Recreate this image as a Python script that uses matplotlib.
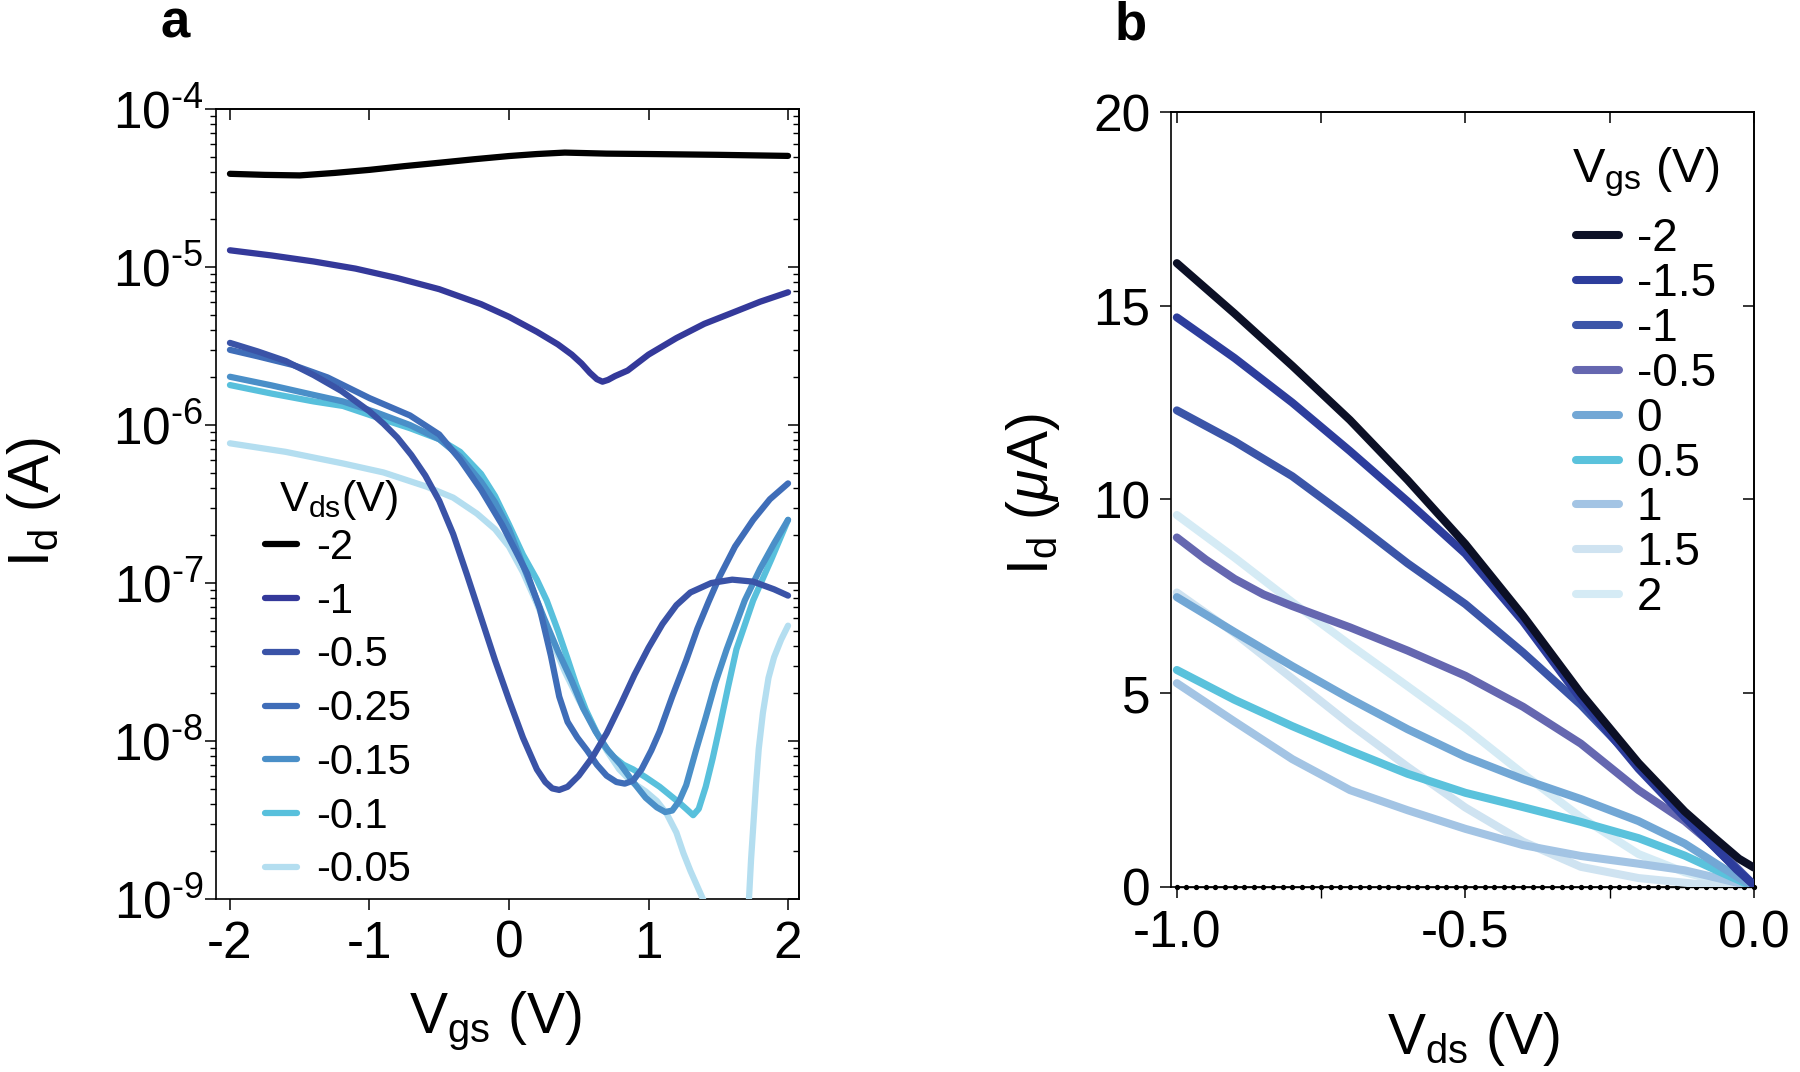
#!/usr/bin/env python3
"""Transfer (a) and output (b) curves of the FET, redrawn from the published figure."""

import numpy as np
import matplotlib

matplotlib.use("Agg")
import matplotlib.pyplot as plt
from matplotlib.ticker import FixedLocator, FuncFormatter, FormatStrFormatter, NullFormatter


# ---- panel a: Id (A) vs Vgs (V), one curve per Vds ----
vds_labels = ["-2", "-1", "-0.5", "-0.25", "-0.15", "-0.1", "-0.05"]
vds_colors = ["#000000", "#34399a", "#3a53a7", "#3f6db8", "#4a8fc8", "#58c0dc", "#b4def0"]

vgs_vds_m2 = [-2.0, -1.75, -1.5, -1.25, -1.0, -0.75, -0.5, -0.25, 0.0, 0.2, 0.4, 0.7, 1.0, 1.5, 2.0]
id_vds_m2 = [3.89e-5, 3.83e-5, 3.80e-5, 3.94e-5, 4.12e-5, 4.35e-5, 4.57e-5, 4.81e-5, 5.04e-5,
             5.19e-5, 5.30e-5, 5.22e-5, 5.19e-5, 5.13e-5, 5.05e-5]

vgs_vds_m1 = [-2.0, -1.7, -1.4, -1.1, -0.8, -0.5, -0.2, 0.0, 0.2, 0.35, 0.45, 0.52, 0.58, 0.63,
              0.67, 0.71, 0.76, 0.85, 1.0, 1.2, 1.4, 1.6, 1.8, 2.0]
id_vds_m1 = [1.276e-5, 1.183e-5, 1.084e-5, 9.77e-6, 8.51e-6, 7.24e-6, 5.82e-6, 4.84e-6, 3.89e-6,
             3.24e-6, 2.79e-6, 2.45e-6, 2.14e-6, 1.95e-6, 1.88e-6, 1.93e-6, 2.04e-6, 2.21e-6,
             2.79e-6, 3.55e-6, 4.37e-6, 5.13e-6, 6.03e-6, 6.92e-6]

vgs_vds_m05 = [-2.0, -1.8, -1.6, -1.4, -1.2, -1.0, -0.9, -0.8, -0.7, -0.6, -0.5, -0.4, -0.3, -0.2,
               -0.1, 0.0, 0.1, 0.2, 0.26, 0.31, 0.36, 0.42, 0.5, 0.6, 0.7, 0.8, 0.9, 1.0, 1.1,
               1.2, 1.3, 1.45, 1.6, 1.75, 1.9, 2.0]
id_vds_m05 = [3.31e-6, 2.92e-6, 2.54e-6, 2.07e-6, 1.64e-6, 1.22e-6, 1.02e-6, 8.32e-7, 6.46e-7,
              4.79e-7, 3.31e-7, 2.04e-7, 1.12e-7, 6.03e-8, 3.24e-8, 1.82e-8, 1.05e-8, 6.61e-9,
              5.50e-9, 5.01e-9, 4.90e-9, 5.13e-9, 6.03e-9, 7.94e-9, 1.12e-8, 1.70e-8, 2.63e-8,
              3.89e-8, 5.50e-8, 7.24e-8, 8.71e-8, 1.00e-7, 1.05e-7, 1.02e-7, 9.12e-8, 8.32e-8]

vgs_vds_m025 = [-2.0, -1.8, -1.55, -1.3, -1.0, -0.71, -0.5, -0.35, -0.2, -0.05, 0.05, 0.13, 0.22,
                0.30, 0.36, 0.42, 0.49, 0.56, 0.63, 0.70, 0.77, 0.83, 0.89, 0.95, 1.02, 1.08,
                1.17, 1.27, 1.35, 1.43, 1.51, 1.62, 1.75, 1.87, 2.0]
id_vds_m025 = [2.99e-6, 2.72e-6, 2.40e-6, 2.00e-6, 1.48e-6, 1.15e-6, 8.71e-7, 6.03e-7, 3.89e-7,
               2.34e-7, 1.58e-7, 1.15e-7, 6.92e-8, 3.47e-8, 1.91e-8, 1.32e-8, 1.05e-8, 8.71e-9,
               7.08e-9, 6.03e-9, 5.50e-9, 5.37e-9, 5.62e-9, 6.61e-9, 8.71e-9, 1.15e-8, 1.91e-8,
               3.24e-8, 5.13e-8, 7.59e-8, 1.10e-7, 1.70e-7, 2.51e-7, 3.39e-7, 4.27e-7]

vgs_vds_m015 = [-2.0, -1.7, -1.4, -1.19, -0.95, -0.71, -0.5, -0.35, -0.2, -0.1, 0.0, 0.12, 0.25,
                0.35, 0.45, 0.53, 0.62, 0.71, 0.80, 0.89, 0.98, 1.06, 1.12, 1.17, 1.22, 1.27,
                1.34, 1.41, 1.48, 1.56, 1.69, 1.8, 1.9, 2.0]
id_vds_m015 = [2.02e-6, 1.78e-6, 1.55e-6, 1.41e-6, 1.20e-6, 1.00e-6, 8.13e-7, 6.31e-7, 4.37e-7,
               3.24e-7, 2.19e-7, 1.17e-7, 6.03e-8, 3.72e-8, 2.40e-8, 1.62e-8, 1.15e-8, 8.71e-9,
               7.08e-9, 5.50e-9, 4.37e-9, 3.80e-9, 3.55e-9, 3.63e-9, 4.17e-9, 5.25e-9, 8.71e-9,
               1.41e-8, 2.34e-8, 3.80e-8, 7.76e-8, 1.23e-7, 1.78e-7, 2.51e-7]

vgs_vds_m01 = [-2.0, -1.7, -1.4, -1.19, -0.95, -0.71, -0.5, -0.35, -0.2, -0.1, 0.0, 0.1, 0.2,
               0.27, 0.35, 0.42, 0.48, 0.55, 0.63, 0.69, 0.75, 0.82, 0.89, 0.98, 1.08, 1.15, 1.22,
               1.27, 1.32, 1.36, 1.41, 1.46, 1.51, 1.57, 1.63, 1.75, 1.88, 2.0]
id_vds_m01 = [1.79e-6, 1.58e-6, 1.41e-6, 1.32e-6, 1.12e-6, 9.55e-7, 8.13e-7, 6.76e-7, 4.90e-7,
              3.55e-7, 2.34e-7, 1.51e-7, 1.05e-7, 7.76e-8, 5.01e-8, 3.31e-8, 2.29e-8, 1.58e-8,
              1.12e-8, 9.12e-9, 7.94e-9, 7.08e-9, 6.61e-9, 5.89e-9, 5.13e-9, 4.57e-9, 4.07e-9,
              3.72e-9, 3.39e-9, 3.72e-9, 5.13e-9, 7.76e-9, 1.23e-8, 2.19e-8, 3.80e-8, 7.76e-8,
              1.41e-7, 2.51e-7]

# -0.05 drops below 1e-9 between ~1.4 V and ~1.72 V (clipped by the axis)
vgs_vds_m005 = [-2.0, -1.6, -1.19, -0.9, -0.59, -0.4, -0.23, -0.1, 0.0, 0.1, 0.2, 0.3, 0.4, 0.5,
                0.6, 0.7, 0.79, 0.88, 0.98, 1.06, 1.13, 1.2, 1.25, 1.3, 1.35, 1.40, 1.45, 1.5,
                1.7, 1.72, 1.735, 1.75, 1.77, 1.79, 1.82, 1.86, 1.9, 1.95, 2.0]
id_vds_m005 = [7.66e-7, 6.76e-7, 5.71e-7, 5.01e-7, 4.07e-7, 3.47e-7, 2.75e-7, 2.19e-7, 1.70e-7,
               1.17e-7, 7.41e-8, 4.47e-8, 2.75e-8, 1.82e-8, 1.26e-8, 8.71e-9, 6.61e-9, 5.50e-9,
               4.79e-9, 4.17e-9, 3.47e-9, 2.63e-9, 1.95e-9, 1.51e-9, 1.20e-9, 9.55e-10, 6.31e-10,
               3.16e-10, 3.16e-10, 1.00e-9, 1.78e-9, 2.82e-9, 5.25e-9, 8.91e-9, 1.51e-8, 2.51e-8,
               3.39e-8, 4.37e-8, 5.37e-8]

# ---- panel b: Id (uA) vs Vds (V), one curve per Vgs ----
vgs_labels = ["-2", "-1.5", "-1", "-0.5", "0", "0.5", "1", "1.5", "2"]
vgs_colors = ["#0c1026", "#2d3d9c", "#3b55a8", "#6567b0", "#72a7d5", "#5ac2dc", "#a3c4e4",
              "#cfe3f1", "#d5ebf5"]

vds_vgs_m2 = [-1.0, -0.9, -0.8, -0.7, -0.6, -0.5, -0.4, -0.3, -0.2, -0.12, -0.066, -0.026, 0.0]
id_vgs_m2 = [16.1, 14.8, 13.45, 12.05, 10.5, 8.85, 7.0, 5.0, 3.2, 1.95, 1.24, 0.73, 0.5]

vds_vgs_m15 = [-1.0, -0.9, -0.8, -0.7, -0.6, -0.5, -0.4, -0.3, -0.2, -0.12, -0.066, -0.03, 0.0]
id_vgs_m15 = [14.7, 13.65, 12.5, 11.25, 9.95, 8.6, 6.85, 4.85, 3.05, 1.8, 1.0, 0.45, 0.05]

vds_vgs_m1 = [-1.0, -0.9, -0.8, -0.7, -0.6, -0.5, -0.4, -0.3, -0.2, -0.12, -0.06, 0.0]
id_vgs_m1 = [12.3, 11.5, 10.6, 9.5, 8.35, 7.3, 6.05, 4.7, 3.15, 1.8, 0.9, 0.05]

vds_vgs_m05 = [-1.0, -0.95, -0.9, -0.85, -0.8, -0.7, -0.6, -0.5, -0.4, -0.3, -0.2, -0.12, -0.06, 0.0]
id_vgs_m05 = [9.02, 8.45, 7.95, 7.55, 7.25, 6.7, 6.1, 5.45, 4.65, 3.7, 2.5, 1.7, 0.95, 0.05]

vds_vgs_0 = [-1.0, -0.9, -0.8, -0.7, -0.6, -0.5, -0.4, -0.3, -0.2, -0.12, -0.06, 0.0]
id_vgs_0 = [7.48, 6.58, 5.7, 4.86, 4.07, 3.36, 2.78, 2.27, 1.7, 1.12, 0.55, 0.0]

vds_vgs_05 = [-1.0, -0.9, -0.8, -0.7, -0.6, -0.5, -0.4, -0.3, -0.2, -0.12, -0.06, 0.0]
id_vgs_05 = [5.6, 4.83, 4.15, 3.52, 2.92, 2.43, 2.06, 1.68, 1.26, 0.81, 0.4, 0.0]

vds_vgs_1 = [-1.0, -0.9, -0.8, -0.7, -0.6, -0.5, -0.4, -0.3, -0.2, -0.12, -0.06, 0.0]
id_vgs_1 = [5.26, 4.27, 3.3, 2.5, 1.98, 1.5, 1.08, 0.8, 0.6, 0.43, 0.22, 0.0]

vds_vgs_15 = [-1.0, -0.9, -0.8, -0.7, -0.6, -0.5, -0.4, -0.3, -0.2, -0.1, 0.0]
id_vgs_15 = [7.6, 6.55, 5.38, 4.2, 3.1, 2.05, 1.17, 0.52, 0.23, 0.08, 0.0]

vds_vgs_2 = [-1.0, -0.9, -0.8, -0.7, -0.6, -0.5, -0.4, -0.3, -0.2, -0.12, -0.06, 0.0]
id_vgs_2 = [9.6, 8.5, 7.35, 6.25, 5.18, 4.1, 2.92, 1.8, 0.85, 0.38, 0.14, 0.0]

# off-state sweep lying on the zero line (small black dots)
vds_sweep_off = np.linspace(-1.0, 0.0, 61)
id_off = np.zeros_like(vds_sweep_off)

TRANSFER = [
    (vgs_vds_m2, id_vds_m2), (vgs_vds_m1, id_vds_m1), (vgs_vds_m05, id_vds_m05),
    (vgs_vds_m025, id_vds_m025), (vgs_vds_m015, id_vds_m015), (vgs_vds_m01, id_vds_m01),
    (vgs_vds_m005, id_vds_m005),
]
OUTPUT = [
    (vds_vgs_m2, id_vgs_m2), (vds_vgs_m15, id_vgs_m15), (vds_vgs_m1, id_vgs_m1),
    (vds_vgs_m05, id_vgs_m05), (vds_vgs_0, id_vgs_0), (vds_vgs_05, id_vgs_05),
    (vds_vgs_1, id_vgs_1), (vds_vgs_15, id_vgs_15), (vds_vgs_2, id_vgs_2),
]

TICK_FS = 37
LABEL_FS = 41


def setup_style() -> None:
    plt.rcParams.update(
        {
            "font.family": ["Liberation Sans", "DejaVu Sans"],
            "mathtext.fontset": "custom",
            "mathtext.rm": "Liberation Sans",
            "mathtext.it": "Liberation Sans:italic",
            "mathtext.bf": "Liberation Sans:bold",
            "axes.unicode_minus": False,
            "axes.linewidth": 1.2,
            "xtick.major.width": 1.1,
            "ytick.major.width": 1.1,
            "xtick.minor.width": 1.0,
            "ytick.minor.width": 1.0,
        }
    )


def decade_label(val, pos):
    exp = int(round(np.log10(val)))
    return rf"10$^{{\text{{{exp}}}}}$"


def mirror_ticks(ax, log_y=False, top_ticks=None, right_ticks=None):
    top = ax.secondary_xaxis("top")
    top.set_xticks(top_ticks)
    top.tick_params(direction="in", length=8, labeltop=False)
    right = ax.secondary_yaxis("right")
    if right_ticks is not None:
        right.set_yticks(right_ticks)
    right.tick_params(which="major", direction="in", length=8, labelright=False)
    right.tick_params(which="minor", direction="in", length=4.5, labelright=False)
    if log_y:
        right.yaxis.set_minor_formatter(NullFormatter())


def make_legend(ax, fig, handles, title, anchor, fontsize, title_fs, handlelength,
                handletextpad, labelspacing, title_sep):
    leg = ax.legend(
        handles=handles,
        title=title,
        loc="upper left",
        bbox_to_anchor=anchor,
        bbox_transform=fig.transFigure,
        frameon=False,
        fontsize=fontsize,
        title_fontsize=title_fs,
        handlelength=handlelength,
        handletextpad=handletextpad,
        labelspacing=labelspacing,
        borderpad=0,
        borderaxespad=0,
    )
    # gap between the title and the first row, in points
    leg._legend_box.sep = title_sep
    return leg


def main() -> None:
    setup_style()
    fig = plt.figure(figsize=(18, 10.72), dpi=100)

    # ---------------- panel a ----------------
    ax_a = fig.add_axes([0.120, 0.1614, 0.324, 0.7369])
    lines_a = []
    for (xs, ys), color, label in zip(TRANSFER, vds_colors, vds_labels):
        (ln,) = ax_a.plot(xs, ys, color=color, lw=4.5, solid_capstyle="round",
                          solid_joinstyle="round", label=label)
        lines_a.append(ln)
    # lighter curves sit underneath the darker ones
    for z, ln in enumerate(lines_a):
        ln.set_zorder(3 + len(lines_a) - z)
    ax_a.set_yscale("log")
    ax_a.set_ylim(1e-9, 1e-4)
    ax_a.set_xlim(-2.1, 2.08)
    ax_a.xaxis.set_major_locator(FixedLocator([-2, -1, 0, 1, 2]))
    ax_a.yaxis.set_major_formatter(FuncFormatter(decade_label))
    ax_a.yaxis.set_minor_formatter(NullFormatter())
    ax_a.tick_params(axis="y", which="major", direction="out", length=8, pad=1, labelsize=TICK_FS)
    ax_a.tick_params(axis="y", which="minor", direction="out", length=4.5)
    ax_a.tick_params(axis="x", direction="out", length=8, pad=7, labelsize=TICK_FS)
    mirror_ticks(ax_a, log_y=True, top_ticks=[-2, -1, 0, 1, 2])

    ax_a.set_xlabel(r"V$_{\mathrm{gs}}$ (V)", fontsize=LABEL_FS)
    ax_a.xaxis.set_label_coords(0.479, -0.115)
    ax_a.set_ylabel(r"I$_{\mathrm{d}}$ (A)", fontsize=LABEL_FS)
    ax_a.yaxis.set_label_coords(-0.262, 0.503)

    make_legend(ax_a, fig, lines_a, r"V$_{\mathrm{ds}}$(V)", (0.1472, 0.554),
                fontsize=30, title_fs=31, handlelength=0.78, handletextpad=0.45,
                labelspacing=0.33, title_sep=4.2)

    # ---------------- panel b ----------------
    ax_b = fig.add_axes([0.6506, 0.1726, 0.3238, 0.7229])
    ax_b.plot(vds_sweep_off, id_off, color="black", lw=1.0, marker="o", ms=2.8,
              zorder=2, clip_on=False)
    lines_b = []
    for (xs, ys), color, label in zip(OUTPUT, vgs_colors, vgs_labels):
        (ln,) = ax_b.plot(xs, ys, color=color, lw=5.8, solid_capstyle="round",
                          solid_joinstyle="round", label=label)
        lines_b.append(ln)
    for z, ln in enumerate(lines_b):
        ln.set_zorder(3 + len(lines_b) - z)
    ax_b.set_xlim(-1.01, 0.0)
    ax_b.set_ylim(0, 20)
    ax_b.xaxis.set_major_locator(FixedLocator([-1.0, -0.5, 0.0]))
    ax_b.xaxis.set_minor_locator(FixedLocator([-0.75, -0.25]))
    ax_b.xaxis.set_major_formatter(FormatStrFormatter("%.1f"))
    ax_b.yaxis.set_major_locator(FixedLocator([0, 5, 10, 15, 20]))
    ax_b.tick_params(axis="both", which="both", direction="out", length=8, labelsize=TICK_FS)
    ax_b.tick_params(axis="x", pad=8)
    ax_b.tick_params(axis="y", pad=7)
    mirror_ticks(ax_b, top_ticks=[-1.0, -0.75, -0.5, -0.25, 0.0], right_ticks=[5, 10, 15])

    ax_b.set_xlabel(r"V$_{\mathrm{ds}}$ (V)", fontsize=LABEL_FS)
    ax_b.xaxis.set_label_coords(0.518, -0.159)
    ax_b.set_ylabel(r"I$_{\mathrm{d}}$ ($\mu$A)", fontsize=LABEL_FS)
    ax_b.yaxis.set_label_coords(-0.187, 0.507)

    make_legend(ax_b, fig, lines_b, r"V$_{\mathrm{gs}}$ (V)", (0.8733, 0.8647),
                fontsize=33, title_fs=35, handlelength=0.94, handletextpad=0.39,
                labelspacing=0.018, title_sep=13.4)

    fig.text(175 / 1800, 1 - 23 / 1072, "a", fontsize=38, fontweight="bold",
             ha="center", va="center")
    fig.text(1131 / 1800, 1 - 25 / 1072, "b", fontsize=38, fontweight="bold",
             ha="center", va="center")

    fig.savefig("out.png", dpi=100)
    plt.close(fig)


if __name__ == "__main__":
    main()
